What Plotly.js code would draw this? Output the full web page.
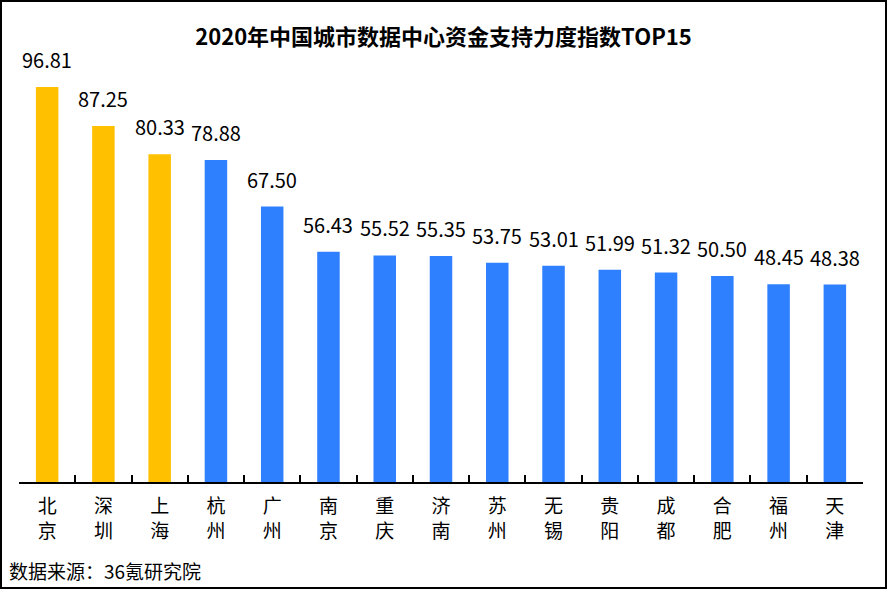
<!DOCTYPE html>
<html>
<head>
<meta charset="utf-8">
<script src="https://cdn.plot.ly/plotly-3.0.1.min.js"></script>
<style>
html,body{margin:0;padding:0;background:#fff;}
#wrap{width:887px;height:589px;box-sizing:border-box;border:2px solid #000;}
#chart{width:883px;height:585px;}
</style>
</head>
<body>
<div id="wrap"><div id="chart"></div></div>
<script>
const cities = ["北<br>京","深<br>圳","上<br>海","杭<br>州","广<br>州","南<br>京","重<br>庆","济<br>南","苏<br>州","无<br>锡","贵<br>阳","成<br>都","合<br>肥","福<br>州","天<br>津"];
const values = [96.81,87.25,80.33,78.88,67.50,56.43,55.52,55.35,53.75,53.01,51.99,51.32,50.50,48.45,48.38];
const highlightCount = 3;
const gold = "#FFC000", blue = "#2F80FF";
const colors = values.map((v,i)=> i < highlightCount ? gold : blue);
const FONT = '"Noto Sans CJK SC","Noto Sans",sans-serif';

const annotations = values.map((v,i)=>({
  x: cities[i], y: v, xref:'x', yref:'y', text: v.toFixed(2),
  showarrow:false, yanchor:'bottom', yshift: 11,
  font:{family:FONT, size:20, color:'#000'}
}));
annotations.push({
  xref:'paper', yref:'paper', x:0, y:0, xanchor:'left', yanchor:'middle',
  xshift:-12, yshift:-88, showarrow:false,
  text:'数据来源：36氪研究院', font:{family:FONT, size:19, color:'#000'}
});

Plotly.newPlot('chart', [{
  type:'bar', x: cities, y: values,
  marker:{color: colors},
  width: 0.4, hoverinfo:'none'
}], {
  width:883, height:585,
  margin:{l:17, r:22, t:38, b:105},
  paper_bgcolor:'#fff', plot_bgcolor:'#fff',
  title:{text:'<b>2020年中国城市数据中心资金支持力度指数TOP15</b>', x:0.5, xanchor:'center', y:0.94, yanchor:'middle', yref:'container',
         font:{family:FONT, size:22, color:'#000'}},
  xaxis:{type:'category', showline:true, linecolor:'#000', linewidth:2,
         ticks:'inside', tickson:'boundaries', ticklen:7, tickwidth:2, tickcolor:'#000',
         ticklabelstandoff:6,
         tickfont:{family:FONT, size:19, color:'#000'}, showgrid:false, fixedrange:true},
  yaxis:{range:[0,108.3], visible:false, showgrid:false, zeroline:false, fixedrange:true},
  annotations: annotations,
  showlegend:false, bargap:0.6
}, {staticPlot:true});
</script>
</body>
</html>
